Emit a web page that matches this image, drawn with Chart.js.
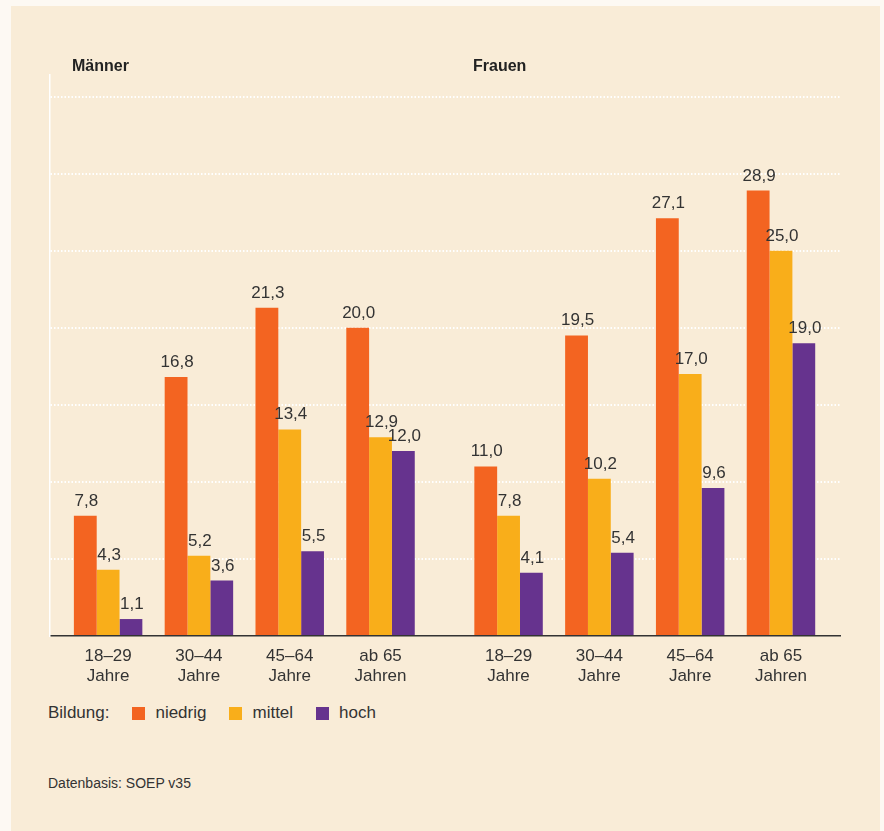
<!DOCTYPE html>
<html lang="de">
<head>
<meta charset="utf-8">
<title>Bildung nach Alter und Geschlecht</title>
<script src="https://cdn.jsdelivr.net/npm/chart.js@4.4.1/dist/chart.umd.min.js"></script>
<style>
  html, body { margin: 0; padding: 0; background: #fdf9f3; }
  body { width: 884px; height: 831px; position: relative; overflow: hidden;
         font-family: "Liberation Sans", Arial, sans-serif; color: #333; }
  #panel { position: absolute; left: 11px; top: 6px; width: 869px; height: 825px; background: #f9ecd7; }
  #chart { position: absolute; left: 0; top: 0; }
  .group-title { position: absolute; top: 57px; font-weight: bold; font-size: 16px; color: #222; }
  #legend { position: absolute; left: 48px; top: 703px; font-size: 17px; display: flex; align-items: center; }
  #legend .item { display: flex; align-items: center; }
  #legend .box { width: 13px; height: 13px; display: inline-block; }
  #source { position: absolute; left: 48px; top: 775px; font-size: 14px; }
</style>
</head>
<body>
<div id="panel"></div>
<canvas id="chart" width="884" height="700"></canvas>
<div class="group-title" style="left:72px">Männer</div>
<div class="group-title" style="left:473px">Frauen</div>
<div id="legend"><span style="margin-right:23px">Bildung:</span></div>
<div id="source">Datenbasis: SOEP v35</div>

<script>
// positions of the age groups on the x axis (gap between Männer and Frauen)
const xPos = [0, 1, 2, 3, 4.41, 5.41, 6.41, 7.41];
const tickLabels = [
  ["18–29", "Jahre"], ["30–44", "Jahre"], ["45–64", "Jahre"], ["ab 65", "Jahren"],
  ["18–29", "Jahre"], ["30–44", "Jahre"], ["45–64", "Jahre"], ["ab 65", "Jahren"]
];
const yTicks = [0, 5, 10, 15, 20, 25, 30, 35];

// Männer (4 Werte), dann Frauen (4 Werte)
const niedrig = [7.8, 16.8, 21.3, 20.0, 11.0, 19.5, 27.1, 28.9];
const mittel  = [4.3, 5.2, 13.4, 12.9, 7.8, 10.2, 17.0, 25.0];
const hoch    = [1.1, 3.6, 5.5, 12.0, 4.1, 5.4, 9.6, 19.0];

const seriesNames = ["niedrig", "mittel", "hoch"];
const seriesColors = ["#f36421", "#f9ae1a", "#66338e"];

const toPts = (vals) => vals.map((v, i) => ({ x: xPos[i], y: v }));
const fmt = (v) => v.toFixed(1).replace(".", ",");

const valueLabels = {
  id: "valueLabels",
  afterDatasetsDraw(chart){
    const ctx = chart.ctx;
    ctx.save();
    ctx.font = '17px "Liberation Sans", Arial, sans-serif';
    ctx.fillStyle = "#333";
    ctx.textAlign = "center";
    ctx.textBaseline = "alphabetic";
    chart.data.datasets.forEach((ds, di) => {
      const meta = chart.getDatasetMeta(di);
      meta.data.forEach((bar, i) => {
        ctx.fillText(fmt(ds.data[i].y), bar.x + 1, bar.y - 10);
      });
    });
    ctx.restore();
  }
};

const chart = new Chart(document.getElementById("chart"), {
  type: "bar",
  data: {
    datasets: seriesNames.map((name, i) => ({
      label: name,
      data: toPts([niedrig, mittel, hoch][i]),
      backgroundColor: seriesColors[i],
      borderWidth: 0,
      barPercentage: 1,
      categoryPercentage: 0.754
    }))
  },
  options: {
    responsive: false,
    animation: false,
    layout: { padding: { left: 50, right: 44, top: 75, bottom: 0 } },
    plugins: { legend: { display: false }, tooltip: { enabled: false } },
    scales: {
      x: {
        type: "linear",
        offset: false,
        min: -0.64,
        max: 8.06,
        afterBuildTicks: (scale) => { scale.ticks = xPos.map(v => ({ value: v })); },
        afterFit: (scale) => { scale.height = 64; },
        grid: { display: false },
        border: { display: true, color: "#333", width: 1.5 },
        ticks: {
          autoSkip: false,
          maxRotation: 0,
          padding: 2,
          color: "#333",
          font: { family: '"Liberation Sans", Arial, sans-serif', size: 17, lineHeight: "20px" },
          callback: (val, idx) => tickLabels[idx]
        }
      },
      y: {
        min: 0,
        max: 36.4,
        afterBuildTicks: (scale) => { scale.ticks = yTicks.map(v => ({ value: v })); },
        afterFit: (scale) => { scale.width = 0; },
        ticks: { display: false },
        grid: {
          drawTicks: false,
          lineWidth: 2,
          color: (c) => (c.tick && c.tick.value === 0) ? "rgba(0,0,0,0)" : "#ffffff"
        },
        border: { display: true, color: "#ffffff", width: 1.5, dash: [1.5, 2] }
      }
    }
  },
  plugins: [valueLabels]
});

// legend built from the datasets
const legend = document.getElementById("legend");
chart.data.datasets.forEach((ds, i) => {
  const item = document.createElement("span");
  item.className = "item";
  item.style.marginRight = i < 2 ? "23px" : "0";
  item.innerHTML = `<span class="box" style="background:${ds.backgroundColor}"></span>` +
                   `<span style="margin-left:10px">${ds.label}</span>`;
  legend.appendChild(item);
});
</script>
</body>
</html>
